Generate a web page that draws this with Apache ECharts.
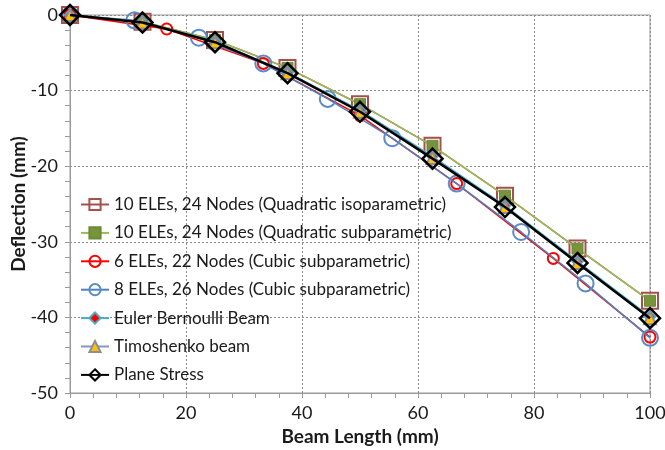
<!DOCTYPE html>
<html>
<head>
<meta charset="utf-8">
<script src="https://cdn.jsdelivr.net/npm/echarts@6/dist/echarts.min.js"></script>
<style>
  html, body { margin: 0; padding: 0; background: #ffffff; }
  #chart { width: 665px; height: 450px; }
</style>
</head>
<body>
<div id="chart"></div>
<script>
// Beam tip-deflection comparison: FE meshes versus beam theories

// Node positions (mm)
const xQuad = [0, 12.5, 25, 37.5, 50, 62.5, 75, 87.5, 100];
const xCubic6 = [0, 16.67, 33.33, 50, 66.67, 83.33, 100];
const xCubic8 = [0, 11.11, 22.22, 33.33, 44.44, 55.56, 66.67, 77.78, 88.89, 100];

// Deflections (mm)
const quadIso = [0, -0.9, -3.3, -7.0, -11.8, -17.3, -23.9, -30.9, -37.8];
const quadSub = [0, -0.9, -3.3, -7.0, -11.8, -17.3, -23.9, -30.9, -37.8];
const cubic6 = [0, -1.85, -6.4, -13.3, -22.3, -32.2, -42.6];
const cubic8 = [0, -0.7, -3.0, -6.4, -11.1, -16.3, -22.3, -28.7, -35.5, -42.7];
const eulerBernoulli = [0, -0.95, -3.5, -7.6, -12.6, -18.7, -25.2, -32.6, -39.9];
const timoshenko = [0, -1.0, -3.6, -7.7, -12.8, -18.9, -25.4, -32.8, -40.1];
const planeStress = [0, -1.0, -3.6, -7.7, -12.8, -19.0, -25.4, -32.8, -40.1];

const seriesNames = [
  '10 ELEs, 24 Nodes (Quadratic isoparametric)',
  '10 ELEs, 24 Nodes (Quadratic subparametric)',
  '6 ELEs, 22 Nodes (Cubic subparametric)',
  '8 ELEs, 26 Nodes (Cubic subparametric)',
  'Euler Bernoulli Beam',
  'Timoshenko beam',
  'Plane Stress'
];

const pairs = (xs, ys) => xs.map((x, i) => [x, ys[i]]);
const FONT = 'Lato, "Open Sans", sans-serif';

function line(idx, xs, ys, opts) {
  return Object.assign({
    type: 'line',
    name: seriesNames[idx],
    data: pairs(xs, ys),
    z: 2 + idx,
    smooth: false,
    animation: false,
    showAllSymbol: true
  }, opts);
}

const series = [
  line(0, xQuad, quadIso, {
    symbol: 'rect', symbolSize: 16,
    lineStyle: { color: '#A5504D', width: 1.5 },
    itemStyle: { color: 'rgba(0,0,0,0)', borderColor: '#A5504D', borderWidth: 2 }
  }),
  line(1, xQuad, quadSub, {
    symbol: 'rect', symbolSize: 11,
    lineStyle: { color: '#9BBB59', width: 1.5 },
    itemStyle: { color: '#77933C', borderColor: '#6A8A35', borderWidth: 1 }
  }),
  line(2, xCubic6, cubic6, {
    symbol: 'circle', symbolSize: 11,
    lineStyle: { color: '#FF0000', width: 1.5 },
    itemStyle: { color: 'rgba(0,0,0,0)', borderColor: '#FF0000', borderWidth: 2 }
  }),
  line(3, xCubic8, cubic8, {
    symbol: 'circle', symbolSize: 16,
    lineStyle: { color: '#4F81BD', width: 1.5 },
    itemStyle: { color: 'rgba(0,0,0,0)', borderColor: '#5B8BC7', borderWidth: 2 }
  }),
  line(4, xQuad, eulerBernoulli, {
    symbol: 'diamond', symbolSize: 11,
    lineStyle: { color: '#4BACC6', width: 1.5 },
    itemStyle: { color: '#FF0000', borderColor: '#4BACC6', borderWidth: 1.5 }
  }),
  line(5, xQuad, timoshenko, {
    symbol: 'triangle', symbolSize: 12,
    lineStyle: { color: '#8497C0', width: 1.5 },
    itemStyle: { color: '#FFC000', borderColor: '#8C8C9C', borderWidth: 2 }
  }),
  line(6, xQuad, planeStress, {
    symbol: 'diamond', symbolSize: 20,
    lineStyle: { color: '#000000', width: 2.5 },
    itemStyle: { color: 'rgba(255,255,255,0)', borderColor: '#000000', borderWidth: 2.5 }
  })
];

const axisGrey = '#9a9a9a';
const chart = echarts.init(document.getElementById('chart'), null, { renderer: 'canvas' });
chart.setOption({
  backgroundColor: '#ffffff',
  animation: false,
  textStyle: { fontFamily: FONT },
  grid: {
    left: 70, right: 15, top: 15, bottom: 57,
    outerBoundsMode: 'none', containLabel: false,
    show: true, borderColor: axisGrey, borderWidth: 1, backgroundColor: 'transparent'
  },
  legend: {
    orient: 'vertical',
    left: 75, top: 191,
    itemWidth: 28, itemHeight: 14, itemGap: 11.4,
    textStyle: { fontFamily: FONT, fontSize: 17, color: '#1a1a1a' },
    data: seriesNames
  },
  xAxis: {
    type: 'value', min: 0, max: 100, interval: 20,
    name: 'Beam Length (mm)', nameLocation: 'middle', nameGap: 34, nameMoveOverlap: false,
    nameTextStyle: { fontFamily: FONT, fontSize: 19, fontWeight: 'bold', color: '#1a1a1a' },
    axisLine: { show: true, onZero: false, lineStyle: { color: axisGrey, width: 1 } },
    axisTick: { show: true, inside: false, length: 5, lineStyle: { color: axisGrey } },
    minorTick: { show: true, splitNumber: 5, length: 5, lineStyle: { color: axisGrey } },
    axisLabel: { fontFamily: FONT, fontSize: 18, color: '#1a1a1a', margin: 11 },
    splitLine: { show: true, lineStyle: { color: '#8a8a8a', type: [2, 2], width: 1 } }
  },
  yAxis: {
    type: 'value', min: -50, max: 0, interval: 10,
    name: 'Deflection (mm)', nameLocation: 'middle', nameGap: 42, nameRotate: 90,
    nameMoveOverlap: false,
    nameTextStyle: { fontFamily: FONT, fontSize: 19, fontWeight: 'bold', color: '#1a1a1a' },
    axisLine: { show: true, onZero: false, lineStyle: { color: axisGrey, width: 1 } },
    axisTick: { show: true, inside: false, length: 5, lineStyle: { color: axisGrey } },
    minorTick: { show: true, splitNumber: 5, length: 5, lineStyle: { color: axisGrey } },
    axisLabel: { fontFamily: FONT, fontSize: 18, color: '#1a1a1a', margin: 12 },
    splitLine: { show: true, lineStyle: { color: '#8a8a8a', type: [2, 2], width: 1 } }
  },
  series: series
});
</script>
</body>
</html>
